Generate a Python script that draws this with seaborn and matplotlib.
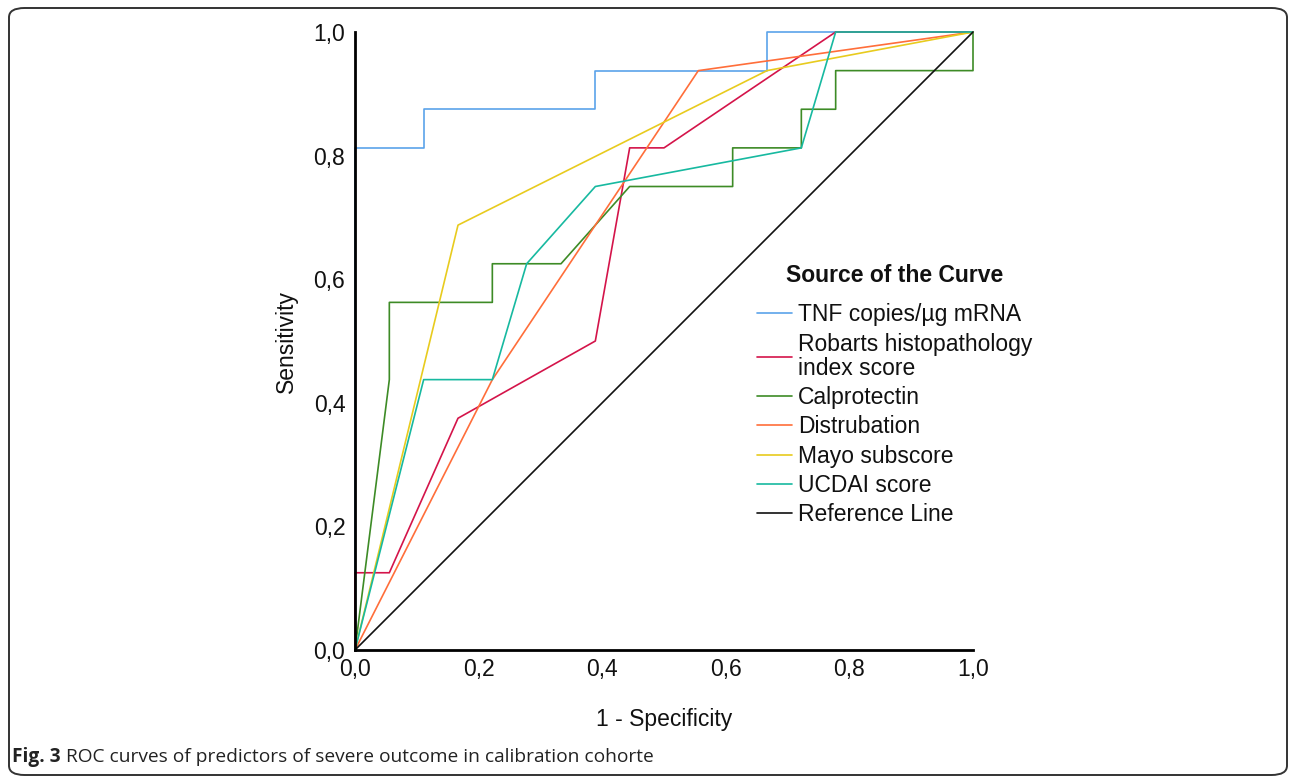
import matplotlib
matplotlib.use("Agg")
import matplotlib.pyplot as plt
import seaborn as sns
import pandas as pd
from matplotlib.patches import FancyBboxPatch

# ---- data (x = 1 - specificity, y = sensitivity) ----
series_names = ["TNF copies/µg mRNA", "Robarts histopathology\nindex score", "Calprotectin",
                "Distrubation", "Mayo subscore", "UCDAI score", "Reference Line"]

tnf_x = [0, 0, 2/18, 2/18, 7/18, 7/18, 12/18, 12/18, 1]
tnf_y = [0, 13/16, 13/16, 14/16, 14/16, 15/16, 15/16, 1, 1]

rob_x = [0, 0, 1/18, 3/18, 7/18, 8/18, 9/18, 14/18, 1]
rob_y = [0, 2/16, 2/16, 6/16, 8/16, 13/16, 13/16, 1, 1]

cal_x = [0, 1/18, 1/18, 4/18, 4/18, 6/18, 8/18, 11/18, 11/18, 13/18, 13/18, 14/18, 14/18, 1, 1]
cal_y = [0, 7/16, 9/16, 9/16, 10/16, 10/16, 12/16, 12/16, 13/16, 13/16, 14/16, 14/16, 15/16, 15/16, 1]

dis_x = [0, 4/18, 10/18, 1]
dis_y = [0, 7/16, 15/16, 1]

mayo_x = [0, 3/18, 12/18, 1]
mayo_y = [0, 11/16, 15/16, 1]

ucd_x = [0, 2/18, 4/18, 5/18, 7/18, 13/18, 14/18, 1]
ucd_y = [0, 7/16, 7/16, 10/16, 12/16, 13/16, 1, 1]

ref_x = [0, 1]
ref_y = [0, 1]

tick_vals = [0.0, 0.2, 0.4, 0.6, 0.8, 1.0]
tick_labels = ["0,0", "0,2", "0,4", "0,6", "0,8", "1,0"]

colors = ["#5BA3EA", "#D4144A", "#3D8B26", "#FF6E3A", "#E8CB1E", "#17B9A0", "#111111"]

xs = [tnf_x, rob_x, cal_x, dis_x, mayo_x, ucd_x, ref_x]
ys = [tnf_y, rob_y, cal_y, dis_y, mayo_y, ucd_y, ref_y]

sns.set_style("white")
plt.rcParams["font.family"] = ["Liberation Sans", "DejaVu Sans"]

fig = plt.figure(figsize=(12.92, 7.78), dpi=100)
ax = fig.add_axes([355/1292, 1 - 650/778, 618/1292, 618/778])

for name, x, y, c in zip(series_names, xs, ys, colors):
    df = pd.DataFrame({"x": x, "y": y})
    sns.lineplot(data=df, x="x", y="y", sort=False, estimator=None, color=c,
                 label=name, ax=ax, linewidth=1.2, clip_on=False)

ax.set_xlim(0, 1)
ax.set_ylim(0, 1)
ax.set_xticks(tick_vals)
ax.set_xticklabels(tick_labels)
ax.set_yticks(tick_vals)
ax.set_yticklabels(tick_labels)
ax.tick_params(axis="both", length=0, labelsize=16.5, colors="#111111")
ax.tick_params(axis="x", pad=6)
ax.tick_params(axis="y", pad=7)
for s in ["top", "right"]:
    ax.spines[s].set_visible(False)
for s in ["left", "bottom"]:
    ax.spines[s].set_color("black")
    ax.spines[s].set_linewidth(2.0)
ax.set_xlabel("1 - Specificity", fontsize=16.5, labelpad=19, color="#111111")
ax.set_ylabel("Sensitivity", fontsize=16.5, labelpad=11, color="#111111")
ax.patch.set_alpha(0)

# legend title as separate text
fig.text(895/1292, 1 - 275/778, "Source of the Curve", fontsize=16.5, fontweight="bold",
         ha="center", va="center", color="#111111")

leg = ax.legend(loc="upper left", bbox_to_anchor=(746/1292, 1 - 292/778),
                bbox_transform=fig.transFigure, frameon=False, fontsize=16.5,
                handlelength=1.5, handletextpad=0.28,
                labelspacing=0.275, borderpad=0)
for t in leg.get_texts():
    t.set_linespacing(1.05)
    t.set_color("#111111")
for l in leg.get_lines():
    l.set_linewidth(1.2)

# rounded frame around the figure
box = FancyBboxPatch((9/1292, 3/778), 1278/1292, 767/778,
                     boxstyle="round,pad=0,rounding_size=0.012",
                     transform=fig.transFigure, fill=False, edgecolor="#333333",
                     linewidth=1.4)
fig.patches.append(box)

# caption
cap_y = 1 - 757/778
t1 = fig.text(12/1292, cap_y, "Fig. 3", fontsize=13.75, fontweight="bold",
              family=["Open Sans", "DejaVu Sans"], va="center", color="#222222")
fig.canvas.draw()
bb = t1.get_window_extent()
fig.text((bb.x1 + 5) / 1292, cap_y, "ROC curves of predictors of severe outcome in calibration cohorte",
         fontsize=13.75, family=["Open Sans", "DejaVu Sans"], va="center", color="#222222")

fig.savefig("out.png", dpi=100)
